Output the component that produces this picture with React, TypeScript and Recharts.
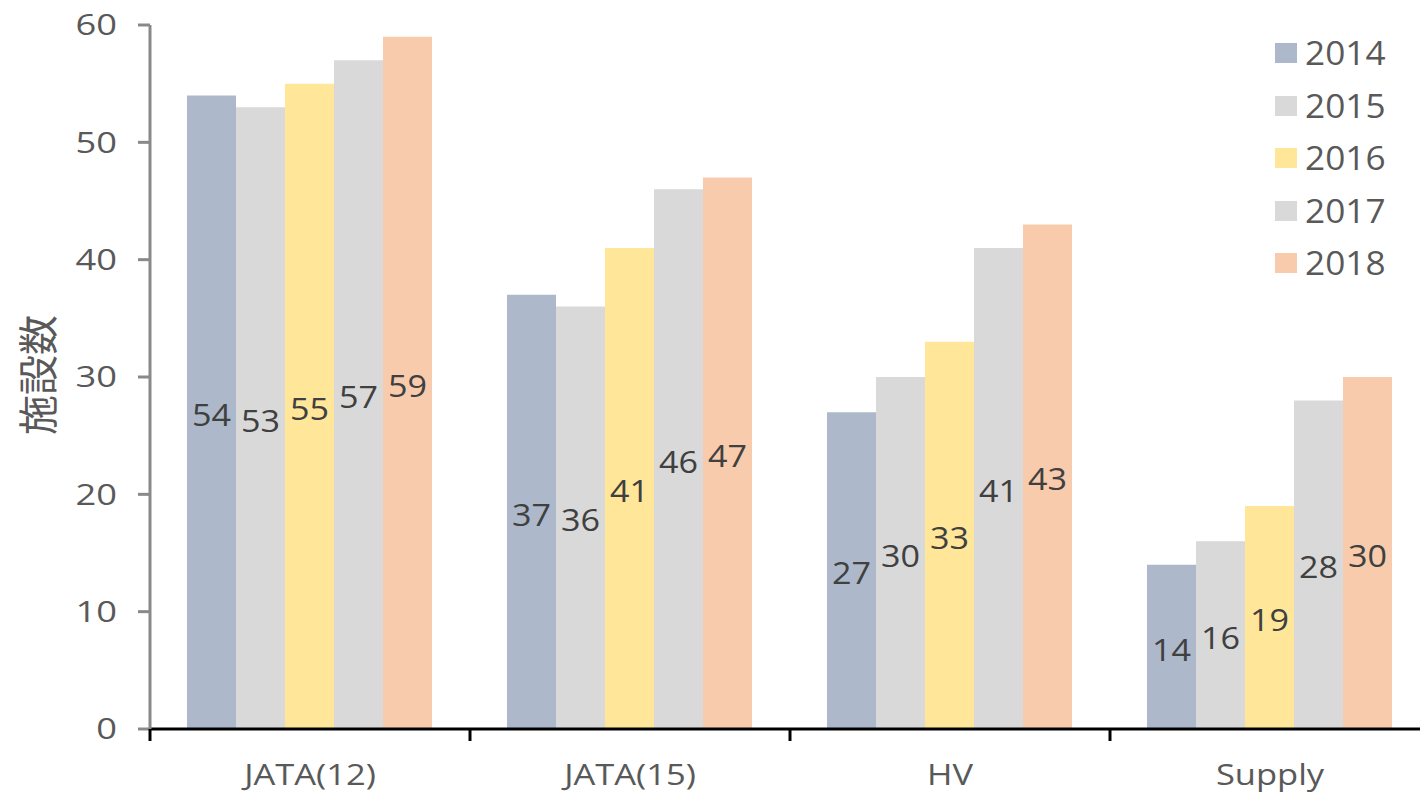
import React from 'react';
import { BarChart, Bar, XAxis, YAxis, LabelList } from 'recharts';

const categories = ['JATA(12)', 'JATA(15)', 'HV', 'Supply'];
const years = ['2014', '2015', '2016', '2017', '2018'];
const values2014 = [54, 37, 27, 14];
const values2015 = [53, 36, 30, 16];
const values2016 = [55, 41, 33, 19];
const values2017 = [57, 46, 41, 28];
const values2018 = [59, 47, 43, 30];
const yTicks = [0, 10, 20, 30, 40, 50, 60];
const colors = ['#ADB9CA', '#D9D9D9', '#FFE699', '#D9D9D9', '#F8CBAD'];
const yLabel = '施設数';

const seriesValues = [values2014, values2015, values2016, values2017, values2018];
const data = categories.map((c, i) => {
  const row: Record<string, string | number> = { category: c };
  years.forEach((y, j) => {
    row['y' + y] = seriesValues[j][i];
  });
  return row;
});

const CHART_W = 1430;
const CHART_H = 794;
const Y_AXIS_W = 150;
const X_AXIS_H = 65;
const HALF_BAND = (CHART_W - Y_AXIS_W) / categories.length / 2;
const LATIN = '"Open Sans", "Noto Sans", sans-serif';

const YTick = (props: any) => {
  const { x, y, payload } = props;
  return (
    <text
      transform={`translate(${x},${y}) scale(1.25,1)`}
      textAnchor="end"
      dy="0.36em"
      fill="#595959"
      fontSize={29}
      fontFamily={LATIN}
    >
      {payload.value}
    </text>
  );
};

const XTick = (props: any) => {
  const { x, y, payload, index } = props;
  const isLast = index === categories.length - 1;
  return (
    <g>
      <line x1={x - HALF_BAND} x2={x - HALF_BAND} y1={y} y2={y + 12} stroke="#000" strokeWidth={3} />
      {isLast && (
        <line x1={x + HALF_BAND} x2={x + HALF_BAND} y1={y} y2={y + 12} stroke="#000" strokeWidth={3} />
      )}
      <text
        transform={`translate(${x},${y + 56}) scale(1.15,1)`}
        textAnchor="middle"
        fill="#595959"
        fontSize={30}
        fontFamily={LATIN}
      >
        {payload.value}
      </text>
    </g>
  );
};

const CenterLabel = (props: any) => {
  const { x, y, width, height, value } = props;
  const cx = Number(x) + Number(width) / 2;
  const cy = Number(y) + Number(height) / 2;
  return (
    <text
      transform={`translate(${cx},${cy}) scale(1.1,1)`}
      textAnchor="middle"
      dy="0.44em"
      fill="#404040"
      fontSize={31}
      fontFamily={LATIN}
    >
      {value}
    </text>
  );
};

const YAxisLabel = () => (
  <text
    transform="translate(36,375) rotate(-90)"
    textAnchor="middle"
    dominantBaseline="central"
    fill="#595959"
    fontSize={40}
    fontFamily='"Noto Sans CJK JP", sans-serif'
  >
    {yLabel}
  </text>
);

const LegendBox = () => (
  <div style={{ position: 'absolute', left: 1275, top: 27 }}>
    {years.map((yr, i) => (
      <div key={yr} style={{ display: 'flex', alignItems: 'center', height: 52.5 }}>
        <div style={{ width: 22, height: 20, background: colors[i], marginRight: 8 }} />
        <span
          style={{
            display: 'inline-block',
            fontFamily: LATIN,
            fontSize: 32,
            color: '#595959',
            transform: 'scaleX(1.1)',
            transformOrigin: 'left center',
            lineHeight: '52.5px',
          }}
        >
          {yr}
        </span>
      </div>
    ))}
  </div>
);

export default function App() {
  return (
    <div
      style={{
        position: 'absolute',
        left: 0,
        top: 0,
        width: 1420,
        height: 794,
        overflow: 'hidden',
        background: '#fff',
      }}
    >
      <BarChart
        width={CHART_W}
        height={CHART_H}
        data={data}
        margin={{ top: 25, right: 0, bottom: 0, left: 0 }}
        barGap={0}
        barCategoryGap={37}
      >
        <XAxis
          dataKey="category"
          height={X_AXIS_H}
          axisLine={{ stroke: '#000', strokeWidth: 3 }}
          tickLine={false}
          tickSize={0}
          tickMargin={0}
          tick={<XTick />}
          interval={0}
        />
        <YAxis
          width={Y_AXIS_W}
          domain={[0, 60]}
          ticks={yTicks}
          interval={0}
          axisLine={{ stroke: '#898989', strokeWidth: 3 }}
          tickLine={{ stroke: '#898989', strokeWidth: 3 }}
          tickSize={12}
          tickMargin={21}
          tick={<YTick />}
          label={<YAxisLabel />}
        />
        {years.map((yr, i) => (
          <Bar key={yr} dataKey={'y' + yr} name={yr} fill={colors[i]} isAnimationActive={false}>
            <LabelList dataKey={'y' + yr} content={<CenterLabel />} />
          </Bar>
        ))}
      </BarChart>
      <LegendBox />
    </div>
  );
}
